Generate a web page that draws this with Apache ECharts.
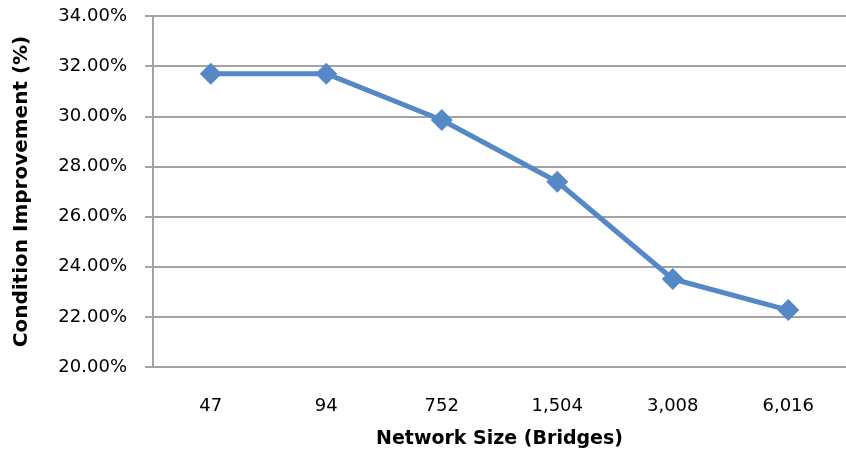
<!DOCTYPE html>
<html>
<head>
<meta charset="utf-8">
<script src="https://cdn.jsdelivr.net/npm/echarts@6/dist/echarts.min.js"></script>
<style>
  html, body { margin: 0; padding: 0; background: #fff; }
  #chart { width: 846px; height: 460px; }
</style>
</head>
<body>
<div id="chart"></div>
<script>
// Network sizes (number of bridges) and the resulting condition improvement
const networkSizes = ['47', '94', '752', '1,504', '3,008', '6,016'];
const improvementPct = [31.70, 31.70, 29.85, 27.39, 23.51, 22.27];

// Value axis range (percent)
const yMin = 20;
const yMax = 34;
const yStep = 2;

const labelFont = 'DejaVu Sans';
const axisGray = '#a3a3a3';
const lineBlue = '#5588C6';

const chart = echarts.init(document.getElementById('chart'), null, { renderer: 'canvas' });

chart.setOption({
  animation: false,
  backgroundColor: '#ffffff',
  grid: { left: 153, right: -11, top: 16, bottom: 93, containLabel: false },
  xAxis: {
    type: 'category',
    data: networkSizes,
    boundaryGap: true,
    name: 'Network Size (Bridges)',
    nameLocation: 'middle',
    nameGap: 63,
    nameTextStyle: { fontFamily: labelFont, fontSize: 19, fontWeight: 'bold', color: '#000' },
    axisLine: { show: true, lineStyle: { color: axisGray, width: 2 } },
    axisTick: { show: false },
    axisLabel: { fontFamily: labelFont, fontSize: 18, color: '#000', margin: 30 },
    splitLine: { show: false }
  },
  yAxis: {
    type: 'value',
    min: yMin,
    max: yMax,
    interval: yStep,
    name: 'Condition Improvement (%)',
    nameLocation: 'middle',
    nameRotate: 90,
    nameGap: 121,
    nameTextStyle: { fontFamily: labelFont, fontSize: 20, fontWeight: 'bold', color: '#000' },
    axisLine: { show: true, lineStyle: { color: axisGray, width: 2 } },
    axisTick: { show: true, inside: false, length: 8, lineStyle: { color: axisGray, width: 2 } },
    axisLabel: {
      fontFamily: labelFont, fontSize: 18, color: '#000', margin: 26,
      formatter: v => v.toFixed(2) + '%'
    },
    splitLine: { show: true, lineStyle: { color: axisGray, width: 2 } }
  },
  series: [{
    type: 'line',
    data: improvementPct,
    symbol: 'diamond',
    symbolSize: 22,
    showSymbol: true,
    lineStyle: { color: lineBlue, width: 5 },
    itemStyle: { color: lineBlue },
    z: 5
  }]
});
</script>
</body>
</html>
